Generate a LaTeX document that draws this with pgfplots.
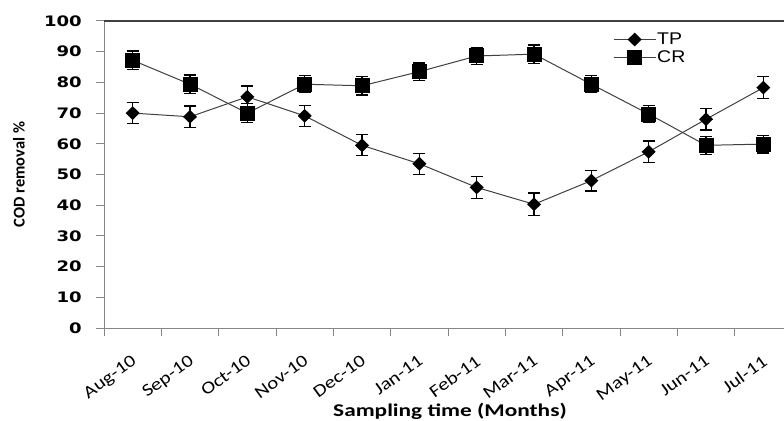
\documentclass[border=0pt]{standalone}
\usepackage{pgfplots}
\pgfplotsset{compat=1.18}
\usepackage{fontspec}
\setmainfont{Carlito}
\newfontfamily\tickfont[FakeStretch=1.25]{DejaVu Sans}
\newfontfamily\xfont[FakeStretch=1.2]{Carlito}
\newfontfamily\titlefont[FakeStretch=1.3]{Carlito}
\newfontfamily\legfont[FakeStretch=1.15]{Liberation Sans}
\definecolor{axgray}{HTML}{868686}
\definecolor{linegray}{HTML}{404040}
\begin{document}
\begin{tikzpicture}
\useasboundingbox (0,0) rectangle (784bp,421bp);
\begin{axis}[
  at={(104bp,93bp)}, anchor=south west,
  scale only axis, width=680bp, height=307bp,
  xmin=-0.5, xmax=11.36, ymin=0, ymax=100,
  /pgf/number format/assume math mode=true,
  axis x line*=bottom, axis y line*=left,
  axis line style={axgray, line width=1bp},
  xtick={0,...,11},
  xticklabels={Aug-10,Sep-10,Oct-10,Nov-10,Dec-10,Jan-11,Feb-11,Mar-11,Apr-11,May-11,Jun-11,Jul-11},
  minor xtick={-0.5,0.5,...,10.5},
  major x tick style={draw=none},
  ytick={0,10,...,100},
  tick align=outside,
  major tick length=8bp, minor tick length=8bp,
  tick style={axgray, line width=1bp},
  extra y ticks={100}, extra y tick labels={},
  extra y tick style={grid=major, major grid style={linegray, line width=1.5bp}, tick style={draw=none}},
  yticklabel style={font=\tickfont\bfseries\fontsize{14.5}{15}\selectfont, anchor=east, inner sep=0pt, xshift=-14bp},
  xticklabel style={font=\xfont\fontsize{17.5}{18}\selectfont, inner sep=0pt, xshift=-2bp, yshift=-18bp, rotate=36, anchor=north east},
  xlabel={Sampling time (Months)},
  ylabel={COD removal \%},
  xlabel style={font=\titlefont\bfseries\fontsize{18}{19}\selectfont, at={(axis description cs:0.5,0)}, anchor=center, xshift=6bp, yshift=-83bp},
  ylabel style={font=\bfseries\fontsize{16.5}{17}\selectfont, at={(axis description cs:0,0.5)}, anchor=center, yshift=85bp},
  legend style={at={(axis description cs:0.7485,0.965)}, anchor=north west, draw=none, fill=none, inner sep=0pt, row sep=3bp,
    font=\legfont\fontsize{17}{18}\selectfont, nodes={inner sep=1bp, text=black}},
  legend cell align=left,
  legend image code/.code={\draw[mark repeat=2,mark phase=2,#1] plot coordinates {(0bp,0bp) (21bp,0bp) (42bp,0bp)};},
  clip=false,
]
\addplot[linegray, line width=1bp, mark=diamond*, mark size=6.2bp, mark options={black, fill=black, xscale=1.35},
  error bars/.cd, y dir=both, y explicit,
  error bar style={black, line width=1.2bp},
  error mark options={rotate=90, mark size=6bp, black, line width=1.2bp}]
coordinates {
(0,70.0) +- (0,3.5)
(1,68.8) +- (0,3.5)
(2,75.3) +- (0,3.5)
(3,69.1) +- (0,3.5)
(4,59.5) +- (0,3.4)
(5,53.5) +- (0,3.4)
(6,45.8) +- (0,3.6)
(7,40.3) +- (0,3.7)
(8,48.0) +- (0,3.4)
(9,57.4) +- (0,3.5)
(10,68.0) +- (0,3.5)
(11,78.3) +- (0,3.6)
};
\addlegendentry{TP}
\addplot[linegray, line width=1bp, mark=square*, mark size=7bp, mark options={black, fill=black},
  error bars/.cd, y dir=both, y explicit,
  error bar style={black, line width=1.2bp},
  error mark options={rotate=90, mark size=6bp, black, line width=1.2bp}]
coordinates {
(0,87.2) +- (0,3.0)
(1,79.4) +- (0,3.0)
(2,70.0) +- (0,3.0)
(3,79.4) +- (0,2.8)
(4,78.9) +- (0,3.0)
(5,83.5) +- (0,2.8)
(6,88.6) +- (0,2.8)
(7,89.2) +- (0,3.0)
(8,79.4) +- (0,2.8)
(9,69.7) +- (0,2.7)
(10,59.5) +- (0,3.0)
(11,59.9) +- (0,2.9)
};
\addlegendentry{CR}
\end{axis}
\end{tikzpicture}
\end{document}
